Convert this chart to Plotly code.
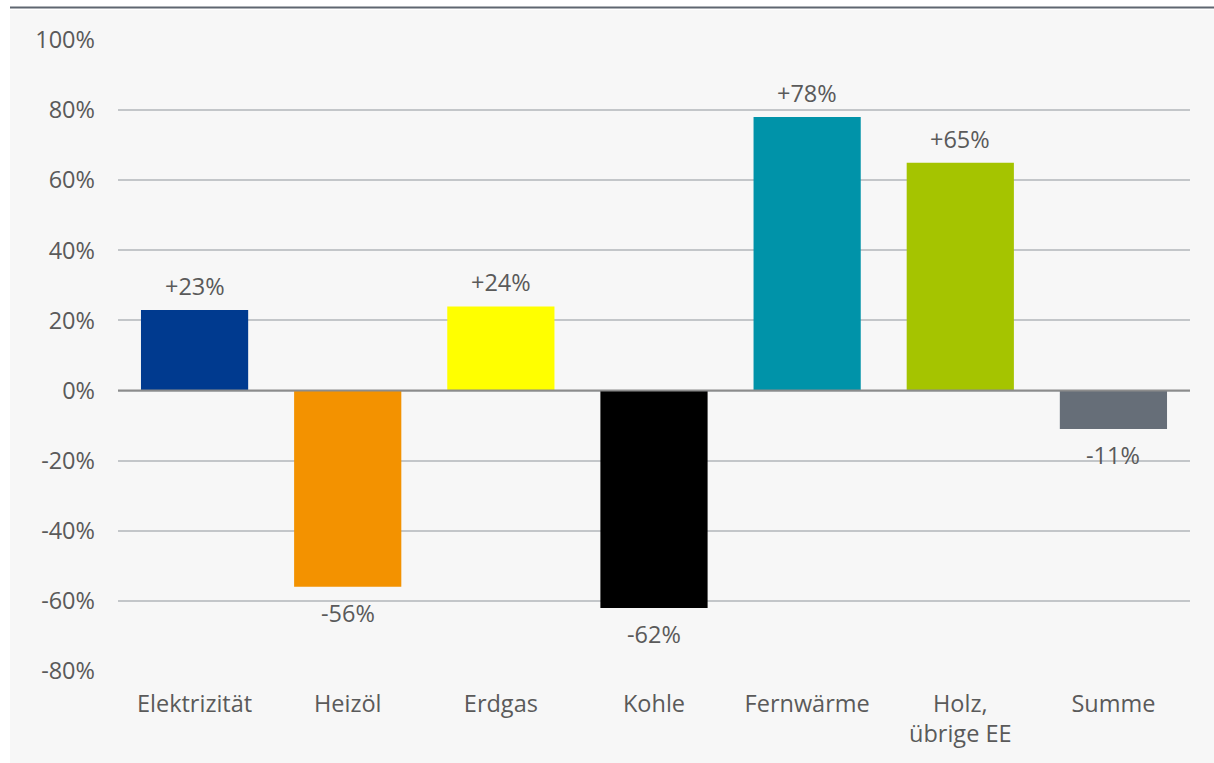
import plotly.graph_objects as go

categories = ["Elektrizität", "Heizöl", "Erdgas", "Kohle", "Fernwärme", "Holz,<br>übrige EE", "Summe"]
values = [23, -56, 24, -62, 78, 65, -11]
value_labels = ["+23%", "-56%", "+24%", "-62%", "+78%", "+65%", "-11%"]
bar_colors = ["#003a8f", "#f39200", "#ffff00", "#000000", "#0093a9", "#a5c400", "#666e78"]
y_ticks = [-80, -60, -40, -20, 0, 20, 40, 60, 80, 100]
y_tick_labels = [f"{t}%" for t in y_ticks]

FONT = "Open Sans, Roboto, sans-serif"
TXT = "#5a5a5a"
FS = 23.5

fig = go.Figure()
fig.add_trace(go.Bar(
    x=categories, y=values, marker=dict(color=bar_colors, line=dict(width=0)),
    width=0.7, hoverinfo="skip", showlegend=False,
))

annotations = []
for c, v, lab in zip(categories, values, value_labels):
    annotations.append(dict(
        x=c, y=v, xref="x", yref="y", text=lab, showarrow=False,
        yanchor="middle", yshift=24 if v >= 0 else -26,
        font=dict(family=FONT, size=FS, color=TXT),
    ))

W, H = 1214, 763
L, R, T, B = 118, 24, 40, 92
pw, ph = W - L - R, H - T - B

def px_x(p):
    return (p - L) / pw

def px_y(p):
    return 1 - (p - T) / ph

shapes = [
    dict(type="rect", xref="paper", yref="paper", x0=px_x(0), x1=px_x(W), y0=px_y(0), y1=px_y(10),
         fillcolor="white", line=dict(width=0), layer="below"),
    dict(type="rect", xref="paper", yref="paper", x0=px_x(0), x1=px_x(10), y0=px_y(0), y1=px_y(H),
         fillcolor="white", line=dict(width=0), layer="below"),
    dict(type="line", xref="paper", yref="paper", x0=px_x(10), x1=px_x(W), y0=px_y(7.5), y1=px_y(7.5),
         line=dict(color="#5f6670", width=2)),
    dict(type="line", xref="paper", yref="y", x0=0, x1=1, y0=0, y1=0,
         line=dict(color="#8c8c8c", width=2), layer="above"),
]

fig.update_layout(
    width=W, height=H,
    margin=dict(l=L, r=R, t=T, b=B),
    paper_bgcolor="#f7f7f7", plot_bgcolor="#f7f7f7",
    font=dict(family=FONT, size=FS, color=TXT),
    annotations=annotations, shapes=shapes,
    bargap=0.3,
)
fig.update_xaxes(showgrid=False, showline=False, zeroline=False, ticks="",
                 tickfont=dict(family=FONT, size=FS, color=TXT), ticklabelstandoff=16)
fig.update_yaxes(range=[-80, 100], tickvals=y_ticks, ticktext=y_tick_labels,
                 showgrid=True, gridcolor="#c3c6c9", gridwidth=2, zeroline=False,
                 showline=False, ticks="", ticklabelstandoff=22,
                 tickfont=dict(family=FONT, size=FS, color=TXT))

fig.write_html("out.html", config={"displayModeBar": False, "staticPlot": True},
               post_script="document.body.style.margin='0';document.body.style.overflow='hidden';")
